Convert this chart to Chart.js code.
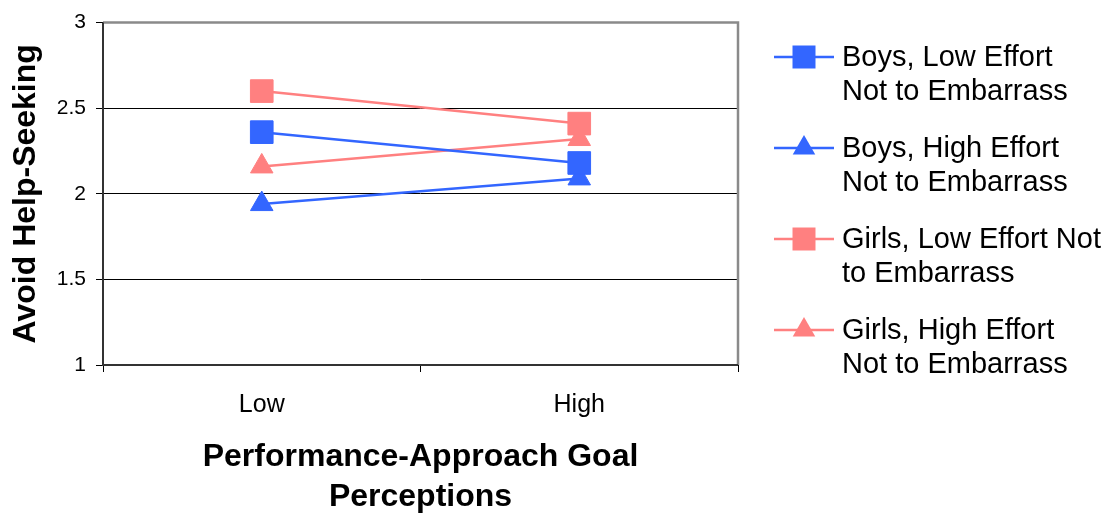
<!DOCTYPE html>
<html><head><meta charset="utf-8">
<script src="https://cdn.jsdelivr.net/npm/chart.js@4/dist/chart.umd.min.js"></script>
<style>html,body{margin:0;padding:0;background:#fff}#wrap{width:1108px;height:514px;position:relative}</style>
</head><body><div id="wrap"><canvas id="c"></canvas></div>
<script>
const categories = ['Low', 'High'];
const boysLowEffort = [2.36, 2.18];
const boysHighEffort = [1.94, 2.09];
const girlsLowEffort = [2.60, 2.41];
const girlsHighEffort = [2.16, 2.32];
const seriesLabels = [
  ['Boys, Low Effort', 'Not to Embarrass'],
  ['Boys, High Effort', 'Not to Embarrass'],
  ['Girls, Low Effort Not', 'to Embarrass'],
  ['Girls, High Effort', 'Not to Embarrass']
];
const yTicks = [1, 1.5, 2, 2.5, 3];
const yTickLabels = ['1', '1.5', '2', '2.5', '3'];
const yTitle = 'Avoid Help-Seeking';
const xTitle = ['Performance-Approach Goal', 'Perceptions'];

const BLUE = '#3366FF', PINK = '#FF8080';
const FONT = '"Liberation Sans", Arial, Helvetica, sans-serif';

function mk(label, data, color, style) {
  return {
    label: label.join(' '), data: data,
    borderColor: color, backgroundColor: color,
    borderWidth: 2.5,
    pointStyle: style,
    pointRadius: style === 'rect' ? 16 : 13,
    pointBorderWidth: 1,
    pointBackgroundColor: color, pointBorderColor: color,
    tension: 0
  };
}

function drawMarker(ctx, style, x, y, color) {
  ctx.fillStyle = color;
  ctx.beginPath();
  if (style === 'rect') {
    const s = 11.5;
    ctx.rect(x - s, y - s, 2 * s, 2 * s);
  } else {
    const r = 13;
    ctx.moveTo(x, y - r);
    ctx.lineTo(x + r * Math.sin(2 * Math.PI / 3), y + r / 2);
    ctx.lineTo(x - r * Math.sin(2 * Math.PI / 3), y + r / 2);
    ctx.closePath();
  }
  ctx.fill();
}

const framePlugin = {
  id: 'frame',
  beforeDatasetsDraw(chart) {
    const {ctx, chartArea: a} = chart;
    ctx.save();
    ctx.strokeStyle = '#8a8a8a';
    ctx.lineWidth = 2.5;
    ctx.beginPath();
    ctx.moveTo(a.left, a.top);
    ctx.lineTo(a.right, a.top);
    ctx.lineTo(a.right, a.bottom);
    ctx.stroke();
    ctx.strokeStyle = '#333';
    ctx.lineWidth = 2;
    ctx.beginPath();
    ctx.moveTo(a.left, a.top);
    ctx.lineTo(a.left, a.bottom);
    ctx.lineTo(a.right, a.bottom);
    ctx.stroke();
    ctx.restore();
  }
};

const legendPlugin = {
  id: 'sideLegend',
  afterDraw(chart) {
    const ctx = chart.ctx;
    ctx.save();
    ctx.font = '29px ' + FONT;
    ctx.textBaseline = 'middle';
    ctx.textAlign = 'left';
    chart.data.datasets.forEach((ds, i) => {
      const y0 = 57 + i * 91;
      ctx.strokeStyle = ds.borderColor;
      ctx.lineWidth = 2.5;
      ctx.beginPath();
      ctx.moveTo(774, y0);
      ctx.lineTo(834, y0);
      ctx.stroke();
      drawMarker(ctx, ds.pointStyle, 804, y0, ds.borderColor);
      ctx.fillStyle = '#000';
      seriesLabels[i].forEach((t, j) => ctx.fillText(t, 842, y0 + 1 + j * 34));
    });
    ctx.restore();
  }
};

new Chart(document.getElementById('c'), {
  type: 'line',
  data: {
    labels: categories,
    datasets: [
      mk(seriesLabels[0], boysLowEffort, BLUE, 'rect'),
      mk(seriesLabels[1], boysHighEffort, BLUE, 'triangle'),
      mk(seriesLabels[2], girlsLowEffort, PINK, 'rect'),
      mk(seriesLabels[3], girlsHighEffort, PINK, 'triangle')
    ]
  },
  options: {
    responsive: true,
    maintainAspectRatio: false,
    animation: false,
    events: [],
    layout: {padding: {top: 19, right: 370, left: 0, bottom: 0}},
    plugins: {legend: {display: false}, tooltip: {enabled: false}},
    scales: {
      x: {
        offset: true,
        grid: {offset: true, drawOnChartArea: false, drawTicks: true, tickLength: 7, color: '#000', lineWidth: 1},
        border: {display: false},
        ticks: {color: '#000', font: {family: FONT, size: 25}, padding: 18, maxRotation: 0},
        title: {display: true, text: xTitle, color: '#000',
          font: {family: FONT, size: 32, weight: 'bold', lineHeight: '40px'}, padding: {top: 0, bottom: -3}},
        afterFit(s) { s.height = 149; }
      },
      y: {
        min: 1, max: 3,
        afterBuildTicks(s) { s.ticks = yTicks.map(v => ({value: v})); },
        grid: {drawOnChartArea: true, drawTicks: true, tickLength: 7, color: '#000', lineWidth: 1},
        border: {display: false},
        ticks: {color: '#000', font: {family: FONT, size: 21}, padding: 10,
          callback: (v) => yTickLabels[yTicks.indexOf(v)]},
        title: {display: true, text: yTitle, color: '#000',
          font: {family: FONT, size: 32, weight: 'bold'}, padding: {top: 7, bottom: 0}},
        afterFit(s) { s.width = 103; }
      }
    }
  },
  plugins: [framePlugin, legendPlugin]
});
</script>
</body></html>
